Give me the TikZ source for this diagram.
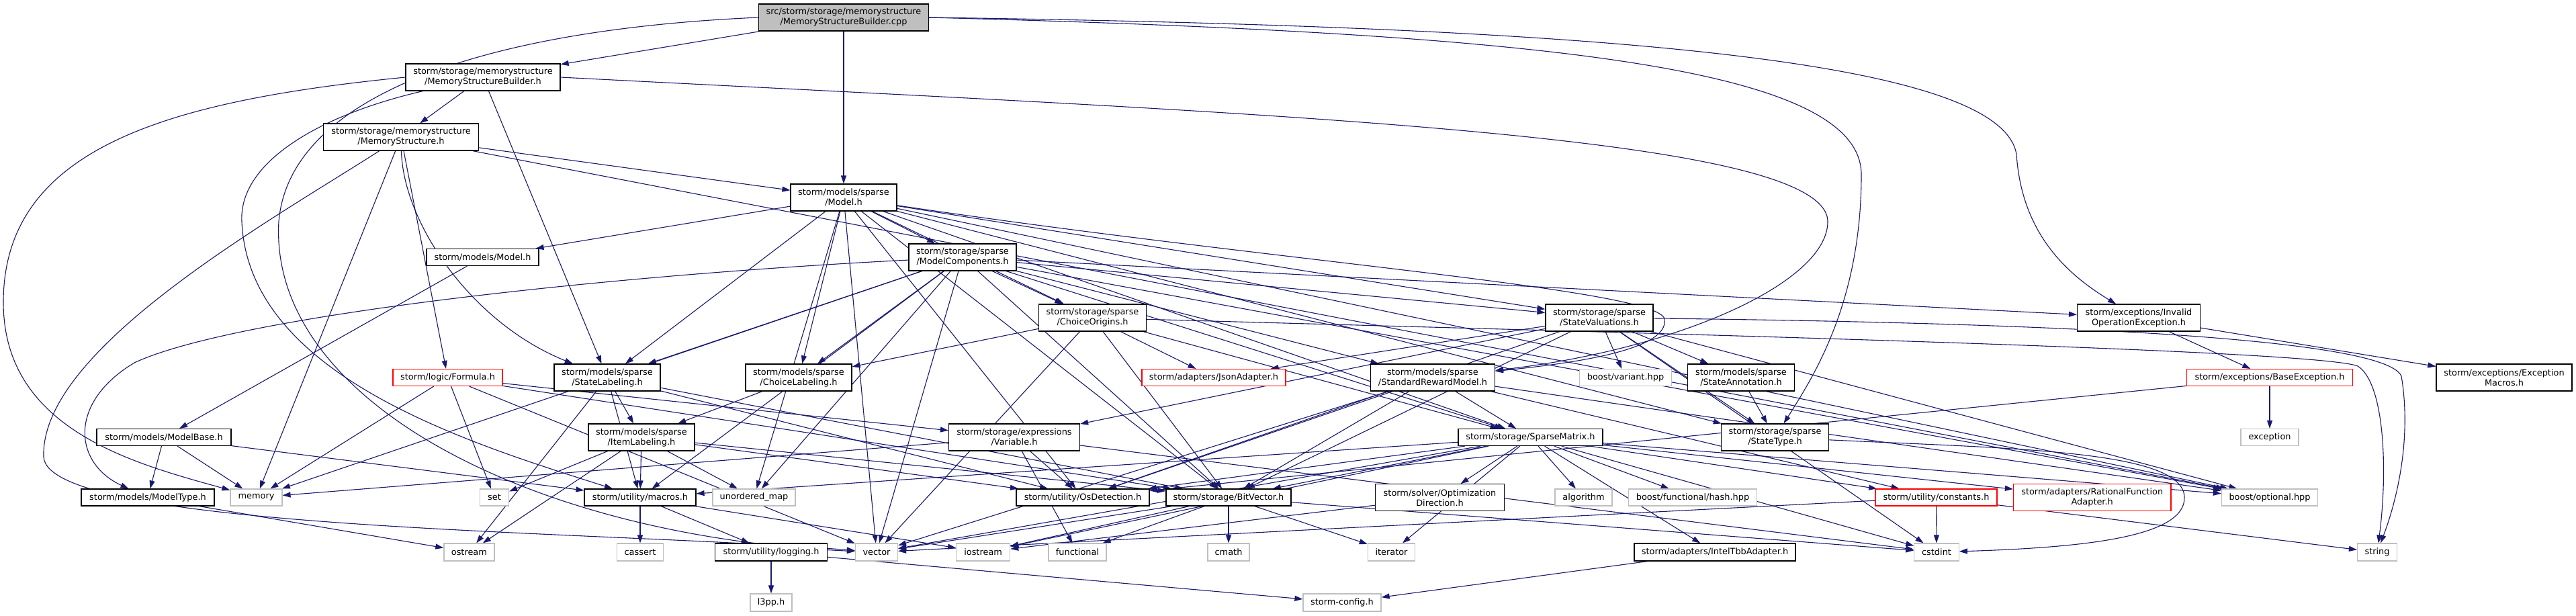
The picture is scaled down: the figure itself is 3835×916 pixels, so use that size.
\documentclass[tikz,border=0pt]{standalone}
\usepackage{fontspec}
\setmainfont{DejaVu Sans}
\usetikzlibrary{arrows.meta}
\pgfdeclarelayer{back}
\pgfdeclarelayer{bg}
\pgfsetlayers{back,bg,main}
\definecolor{eb}{HTML}{191970}
\definecolor{grey75}{HTML}{BFBFBF}
\newcommand{\nb}[7]{\node[#6,minimum width=#4pt,minimum height=#5pt] (#1) at (#2,#3) {#7};}
\begin{document}
\begin{tikzpicture}[x=1pt,y=-1pt,
  base/.style={rectangle, fill=white, line width=1.2pt, inner sep=0pt, align=center, font=\fontsize{12.9}{15}\selectfont},
  bk/.style={base, draw=black},
  gy/.style={base, draw=grey75},
  rd/.style={base, draw=red},
  rt/.style={base, draw=black, fill=grey75},
  e/.style={draw=eb, line width=1.1pt, -{Triangle[length=12pt,width=8pt]}}]
\begin{pgfonlayer}{back}
\fill[white] (0,0) rectangle (3835,916);
\end{pgfonlayer}
\useasboundingbox (0,0) rectangle (3835,916);
% row 0-3
\nb{root}{1256}{26}{253}{40}{rt}{src/storm/storage/memorystructure\\/MemoryStructureBuilder.cpp}
\nb{MSB}{719}{115}{230}{40}{bk}{storm/storage/memorystructure\\/MemoryStructureBuilder.h}
\nb{MS}{597}{204}{231}{40}{bk}{storm/storage/memorystructure\\/MemoryStructure.h}
\nb{Model}{1256}{294}{158}{40}{bk}{storm/models/sparse\\/Model.h}
% row 4
\nb{MModel}{718.5}{383}{167}{25}{bk}{storm/models/Model.h}
\nb{MC}{1433}{383}{160}{40}{bk}{storm/storage/sparse\\/ModelComponents.h}
% row 5
\nb{CO}{1626.5}{473}{160}{40}{bk}{storm/storage/sparse\\/ChoiceOrigins.h}
\nb{SV}{2381}{473}{160}{40}{bk}{storm/storage/sparse\\/StateValuations.h}
\nb{IOE}{3184}{473}{183}{40}{bk}{storm/exceptions/Invalid\\OperationException.h}
% row 6
\nb{Formula}{666.5}{562}{163}{25}{rd}{storm/logic/Formula.h}
\nb{SL}{904}{562}{158}{40}{bk}{storm/models/sparse\\/StateLabeling.h}
\nb{CL}{1189}{562}{158}{40}{bk}{storm/models/sparse\\/ChoiceLabeling.h}
\nb{Json}{1807}{562}{214}{25}{rd}{storm/adapters/JsonAdapter.h}
\nb{SRM}{2133}{562}{185}{40}{bk}{storm/models/sparse\\/StandardRewardModel.h}
\nb{variant}{2420}{562}{137}{25}{gy}{boost/variant.hpp}
\nb{SA}{2592}{562}{159}{40}{bk}{storm/models/sparse\\/StateAnnotation.h}
\nb{BE}{3379}{562}{247}{25}{rd}{storm/exceptions/BaseException.h}
\nb{EM}{3728}{562}{202}{40}{bk}{storm/exceptions/Exception\\Macros.h}
% row 7
\nb{MB}{244}{651}{200}{25}{bk}{storm/models/ModelBase.h}
\nb{IL}{955}{651}{158}{40}{bk}{storm/models/sparse\\/ItemLabeling.h}
\nb{Var}{1510}{651}{195}{40}{bk}{storm/storage/expressions\\/Variable.h}
\nb{SM}{2278.5}{651}{215}{25}{bk}{storm/storage/SparseMatrix.h}
\nb{ST}{2642.5}{651}{160}{40}{bk}{storm/storage/sparse\\/StateType.h}
\nb{exc}{3379}{651}{86}{25}{gy}{exception}
% row 8
\nb{MT}{220}{740.5}{198}{25}{bk}{storm/models/ModelType.h}
\nb{memory}{381.5}{740.5}{77}{25}{gy}{memory}
\nb{set}{736}{740.5}{43}{25}{gy}{set}
\nb{macros}{953}{740.5}{166}{25}{bk}{storm/utility/macros.h}
\nb{umap}{1122.5}{740.5}{123}{25}{gy}{unordered\_map}
\nb{OS}{1612}{740.5}{198}{25}{bk}{storm/utility/OsDetection.h}
\nb{BV}{1829}{740.5}{186}{25}{bk}{storm/storage/BitVector.h}
\nb{OD}{2143.5}{740.7}{192}{40}{bk}{storm/solver/Optimization\\Direction.h}
\nb{algo}{2357.5}{740.5}{85}{25}{gy}{algorithm}
\nb{hash}{2520}{740.5}{191}{25}{gy}{boost/functional/hash.hpp}
\nb{const}{2882.5}{740.5}{181}{25}{rd}{storm/utility/constants.h}
\nb{RFA}{3114.7}{740.7}{234.5}{40}{rd}{storm/adapters/RationalFunction\\Adapter.h}
\nb{opt}{3379}{740.5}{143}{25}{gy}{boost/optional.hpp}
% row 9
\nb{ostream}{698.4}{822}{75}{26}{gy}{ostream}
\nb{cassert}{953}{822}{69}{26}{gy}{cassert}
\nb{logging}{1148}{822}{166.5}{26}{bk}{storm/utility/logging.h}
\nb{vector}{1305}{822}{63}{26}{gy}{vector}
\nb{iostream}{1463.6}{822}{80}{26}{gy}{iostream}
\nb{functional}{1604}{822}{86}{26}{gy}{functional}
\nb{cmath}{1829}{822}{62}{26}{gy}{cmath}
\nb{iterator}{2071.5}{822}{70.5}{26}{gy}{iterator}
\nb{tbb}{2553}{822}{240}{26}{bk}{storm/adapters/IntelTbbAdapter.h}
\nb{cstdint}{2883}{822}{66.5}{26}{gy}{cstdint}
\nb{string}{3539}{822}{59}{26}{gy}{string}
% row 10
\nb{l3pp}{1148}{897}{62}{26}{gy}{l3pp.h}
\nb{config}{1998}{897}{116}{26}{gy}{storm-config.h}

\begin{pgfonlayer}{bg}
\foreach \s/\t in {root/MSB, root/Model,
 MSB/MS, MSB/SL,
 MS/Model, MS/Formula, MS/memory, MS/opt,
 Model/MModel, Model/MC, Model/CO, Model/SV, Model/CL, Model/SL, Model/SM, Model/BV, Model/ST, Model/OS, Model/umap, Model/vector, Model/opt,
 MC/memory, MC/SL, MC/CL, MC/CO, MC/SV, MC/SRM, MC/SM, MC/BV, MC/macros, MC/vector, MC/umap, MC/IOE, MC/opt,
 CO/CL, CO/Json, CO/vector, CO/BV, CO/SM,
 SV/variant, SV/SA, SV/Json, SV/Var, SV/ST, SV/cstdint, SV/BV, SV/OS, SV/opt,
 Formula/memory, Formula/set, Formula/vector, Formula/Var, Formula/BV,
 SL/IL, SL/macros, SL/ostream, SL/BV, SL/OS,
 IL/set, IL/ostream, IL/macros, IL/OS, IL/BV, IL/umap,
 CL/IL,
 MB/MT, MB/memory, MB/macros,
 MModel/MB,
 MT/ostream,
 Var/memory, Var/OS, Var/functional, Var/cstdint,
 macros/cassert, macros/logging, macros/iostream,
 logging/l3pp, logging/config,
 BV/vector, BV/iostream, BV/functional, BV/cmath, BV/iterator, BV/cstdint,
 SM/OD, SM/algo, SM/hash, SM/const, SM/RFA, SM/opt, SM/tbb, SM/iterator, SM/cstdint, SM/vector, SM/iostream, SM/BV, SM/OS, SM/macros,
 SRM/SM, SRM/BV, SRM/vector, SRM/opt, SRM/const, SRM/OS,
 SA/ST,
 IOE/BE, IOE/EM,
 BE/exc, BE/OS,
 const/cstdint, const/string, const/vector,
 tbb/config,
 OD/iostream}
 { \draw[e] (\s) -- (\t); }
% long curved connectors
\draw[e] (root.west) .. controls (700,45) and (430,150) .. (415,330) .. controls (400,600) and (800,800) .. (vector);
\draw[e] (MSB.west) .. controls (250,150) and (5,220) .. (5,450) .. controls (5,640) and (200,690) .. (memory);
\draw[e] (MSB) .. controls (480,170) and (355,240) .. (360,330) .. controls (370,560) and (700,660) .. (macros);
\draw[e] (MS) .. controls (600,330) and (700,480) .. (SL);
\draw[e] (Model) .. controls (1900,390) and (2470,430) .. (2478,475) .. controls (2485,520) and (2350,540) .. (SRM);
\draw[e] (root.east) .. controls (2400,40) and (2980,90) .. (3002,230) .. controls (3010,350) and (3080,410) .. (IOE);
\draw[e] (root.east) .. controls (2300,50) and (2771,100) .. (2771,260) .. controls (2771,450) and (2700,560) .. (ST);
\draw[e] (MSB.east) .. controls (1900,170) and (2721,200) .. (2721,330) .. controls (2721,420) and (2500,520) .. (SRM);
\draw[e] (MS) .. controls (400,330) and (60,520) .. (65,680) .. controls (70,790) and (900,790) .. (vector);
\draw[e] (MC) .. controls (900,410) and (350,470) .. (200,540) .. controls (100,600) and (110,690) .. (MT);
\draw[e] (ST) .. controls (3000,668) and (3250,670) .. (3252,740) .. controls (3254,800) and (3100,815) .. (cstdint);
\draw[e] (CO) .. controls (2400,495) and (3450,520) .. (3510,545) .. controls (3550,570) and (3555,700) .. (string);
\draw[e] (SV) .. controls (3000,480) and (3550,500) .. (3575,560) .. controls (3590,650) and (3570,740) .. (string);
\end{pgfonlayer}
\end{tikzpicture}
\end{document}
